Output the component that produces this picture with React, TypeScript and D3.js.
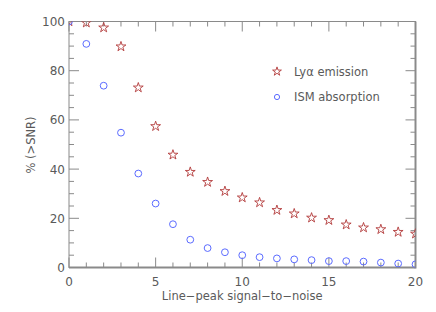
import React from "react";
import * as d3 from "d3";

const snr = [0, 1, 2, 3, 4, 5, 6, 7, 8, 9, 10, 11, 12, 13, 14, 15, 16, 17, 18, 19, 20];
const lyaEmission = [100, 99.5, 97.5, 89.8, 73.1, 57.4, 45.8, 38.8, 34.7, 31.0, 28.4, 26.4, 23.3, 21.9, 20.2, 19.2, 17.4, 16.2, 15.5, 14.4, 13.7];
const ismAbsorption = [100, 90.9, 73.9, 54.8, 38.2, 26.0, 17.6, 11.3, 7.9, 6.2, 5.0, 4.2, 3.7, 3.3, 3.0, 2.6, 2.6, 2.4, 2.0, 1.6, 1.3];
const xTicks = [0, 5, 10, 15, 20];
const yTicks = [0, 20, 40, 60, 80, 100];
const legendLabels = ["Lyα emission", "ISM absorption"];

const W = 436, H = 312;
const M = { left: 69, right: 415.5, top: 21.5, bottom: 267.5 };
const RED = "#b23a3a";
const BLUE = "#5b6bff";
const AXIS = "#8a8a8a";
const TEXT = "#5a5a5a";
const FONT = "'DejaVu Sans', sans-serif";

export default function App() {
  const x = d3.scaleLinear().domain([0, 20]).range([M.left, M.right]);
  const y = d3.scaleLinear().domain([0, 100]).range([M.bottom, M.top]);
  const star = d3.symbol().type(d3.symbolStar).size(30)()!;
  const legendStar = d3.symbol().type(d3.symbolStar).size(24)()!;
  const xMinor = d3.range(0, 21, 1);
  const yMinor = d3.range(0, 101, 5);
  const tk = 5;
  return (
    <svg width={W} height={H} style={{ position: "absolute", left: 0, top: 0, background: "#fff" }}>
      <defs>
        <clipPath id="plot">
          <rect x={M.left} y={M.top} width={M.right - M.left} height={M.bottom - M.top} />
        </clipPath>
      </defs>
      {/* frame */}
      <rect x={M.left} y={M.top} width={M.right - M.left} height={M.bottom - M.top} fill="none" stroke={AXIS} strokeWidth={1} />
      <line x1={M.right} x2={M.right} y1={M.top} y2={M.bottom + 1} stroke={AXIS} strokeWidth={2} />
      <line x1={M.left} x2={M.right} y1={M.bottom} y2={M.bottom} stroke={AXIS} strokeWidth={2} />
      {/* ticks */}
      {xMinor.map((v) => {
        const len = v % 5 === 0 ? tk * 2 : tk;
        return (
          <g key={"x" + v}>
            <line x1={x(v)} x2={x(v)} y1={M.bottom} y2={M.bottom - len} stroke={AXIS} />
            <line x1={x(v)} x2={x(v)} y1={M.top} y2={M.top + len} stroke={AXIS} />
          </g>
        );
      })}
      {yMinor.map((v) => {
        const len = v % 20 === 0 ? tk * 2 : tk;
        return (
          <g key={"y" + v}>
            <line x1={M.left} x2={M.left + len} y1={y(v)} y2={y(v)} stroke={AXIS} />
            <line x1={M.right} x2={M.right - len} y1={y(v)} y2={y(v)} stroke={AXIS} />
          </g>
        );
      })}
      {xTicks.map((v) => (
        <text key={"xl" + v} x={x(v)} y={286} textAnchor="middle" fontSize={12} fill={TEXT} fontFamily={FONT}>
          {v}
        </text>
      ))}
      {yTicks.map((v) => (
        <text key={"yl" + v} x={M.left - 4} y={y(v) + 4.5} textAnchor="end" fontSize={12} fill={TEXT} fontFamily={FONT}>
          {v}
        </text>
      ))}
      <text x={(M.left + M.right) / 2} y={300} textAnchor="middle" fontSize={11.5} fill={TEXT} fontFamily={FONT}>
        Line−peak signal−to−noise
      </text>
      <text transform={`translate(35,145) rotate(-90)`} textAnchor="middle" fontSize={11.5} fill={TEXT} fontFamily={FONT}>
        % (&gt;SNR)
      </text>
      {/* data */}
      <g clipPath="url(#plot)">
        {snr.map((v, i) => (
          <path key={"s" + i} d={star} transform={`translate(${x(v)},${y(lyaEmission[i])})`} fill="none" stroke={RED} strokeWidth={0.9} />
        ))}
        {snr.map((v, i) => (
          <circle key={"c" + i} cx={x(v)} cy={y(ismAbsorption[i])} r={3.4} fill="none" stroke={BLUE} strokeWidth={1} />
        ))}
      </g>
      {/* legend */}
      <path d={legendStar} transform="translate(277,71.5)" fill="none" stroke={RED} strokeWidth={0.9} />
      <text x={294} y={76} fontSize={11.5} fill={TEXT} fontFamily={FONT}>{legendLabels[0]}</text>
      <circle cx={277} cy={97} r={2.6} fill="none" stroke={BLUE} strokeWidth={1} />
      <text x={294} y={101} fontSize={11.5} fill={TEXT} fontFamily={FONT}>{legendLabels[1]}</text>
    </svg>
  );
}
